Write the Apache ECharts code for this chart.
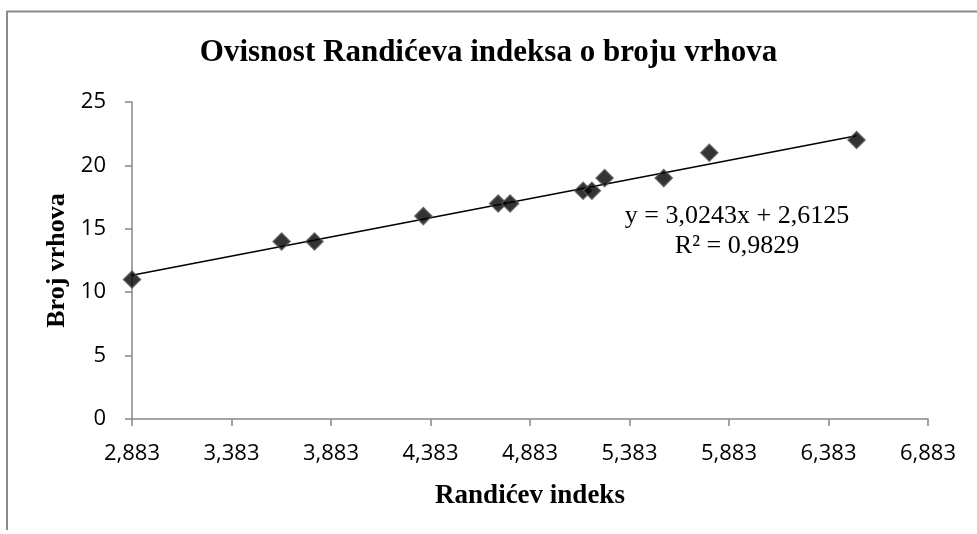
<!DOCTYPE html>
<html>
<head>
<meta charset="utf-8">
<script src="https://cdn.jsdelivr.net/npm/echarts@6/dist/echarts.min.js"></script>
<style>
  html, body { margin: 0; padding: 0; background: #fff; }
  #chart { width: 977px; height: 534px; }
</style>
</head>
<body>
<div id="chart"></div>
<script>
// Randićev indeks (x) i broj vrhova (y)
const randicIndex = [2.883, 3.635, 3.800, 4.347, 4.723, 4.783, 5.150, 5.194, 5.258, 5.555, 5.784, 6.524];
const vertexCount = [11, 14, 14, 16, 17, 17, 18, 18, 19, 19, 21, 22];

const xTicks = [2.883, 3.383, 3.883, 4.383, 4.883, 5.383, 5.883, 6.383, 6.883];
const yTicks = [0, 5, 10, 15, 20, 25];

// linear trendline from the reference
const slope = 3.0243;
const intercept = 2.6125;
const rSquared = 0.9829;

function fmt(v, d) {
  return v.toFixed(d).replace(".", ",");
}

const chart = echarts.init(document.getElementById("chart"));

const points = randicIndex.map(function (x, i) {
  return [x, vertexCount[i]];
});
const xMinData = Math.min.apply(null, randicIndex);
const xMaxData = Math.max.apply(null, randicIndex);
const trend = [
  [xMinData, slope * xMinData + intercept],
  [xMaxData, slope * xMaxData + intercept],
];

const axisColor = "#868686";
const labelFont = "'Open Sans', 'Noto Sans', sans-serif";
const serif = "'Liberation Serif', 'DejaVu Serif', serif";

option = {
  backgroundColor: "#fff",
  animation: false,
  title: {
    text: "Ovisnost Randićeva indeksa o broju vrhova",
    left: "center",
    top: 32,
    textStyle: {
      fontFamily: serif,
      fontSize: 31,
      fontWeight: "bold",
      color: "#000",
    },
  },
  grid: {
    left: 132,
    right: 49,
    top: 102,
    bottom: 115,
  },
  xAxis: {
    type: "value",
    min: xTicks[0],
    max: xTicks[xTicks.length - 1],
    name: "Randićev indeks",
    nameLocation: "middle",
    nameGap: 64,
    nameTextStyle: {
      fontFamily: serif,
      fontSize: 27,
      fontWeight: "bold",
      color: "#000",
    },
    splitLine: { show: false },
    axisLine: { lineStyle: { color: axisColor, width: 1.5 } },
    axisTick: {
      customValues: xTicks,
      length: 7,
      lineStyle: { color: axisColor, width: 1.5 },
    },
    axisLabel: {
      customValues: xTicks,
      margin: 24,
      fontFamily: labelFont,
      fontSize: 22,
      color: "#000",
      formatter: function (v) {
        return fmt(v, 3);
      },
    },
  },
  yAxis: {
    type: "value",
    min: 0,
    max: 25,
    interval: 5,
    name: "Broj vrhova",
    nameLocation: "middle",
    nameGap: 61,
    nameTextStyle: {
      fontFamily: serif,
      fontSize: 26,
      fontWeight: "bold",
      color: "#000",
    },
    splitLine: { show: false },
    axisLine: { show: true, lineStyle: { color: axisColor, width: 1.5 } },
    axisTick: {
      show: true,
      length: 7,
      lineStyle: { color: axisColor, width: 1.5 },
    },
    axisLabel: {
      margin: 26,
      fontFamily: labelFont,
      fontSize: 22,
      color: "#000",
      formatter: function (v) {
        return yTicks.indexOf(v) >= 0 ? String(v) : "";
      },
    },
  },
  series: [
    {
      type: "line",
      data: trend,
      symbol: "none",
      silent: true,
      lineStyle: { color: "#000", width: 1.5 },
      z: 2,
    },
    {
      type: "scatter",
      data: points,
      symbol: "diamond",
      symbolSize: [17, 17],
      itemStyle: {
        color: "#000",
        borderColor: "#555",
        borderWidth: 1.5,
      },
      z: 3,
    },
  ],
  graphic: [
    {
      type: "polyline",
      silent: true,
      shape: { points: [[7, 530], [7, 11.5], [977, 11.5]] },
      style: { stroke: "#8c8c8c", lineWidth: 2, fill: null },
    },
    {
      type: "text",
      x: 737,
      y: 201,
      style: {
        text: "y = " + fmt(slope, 4) + "x + " + fmt(intercept, 4) + "\nR² = " + fmt(rSquared, 4),
        align: "center",
        verticalAlign: "top",
        fontFamily: serif,
        fontSize: 26,
        lineHeight: 30,
        fill: "#000",
      },
    },
  ],
};

chart.setOption(option);
</script>
</body>
</html>
